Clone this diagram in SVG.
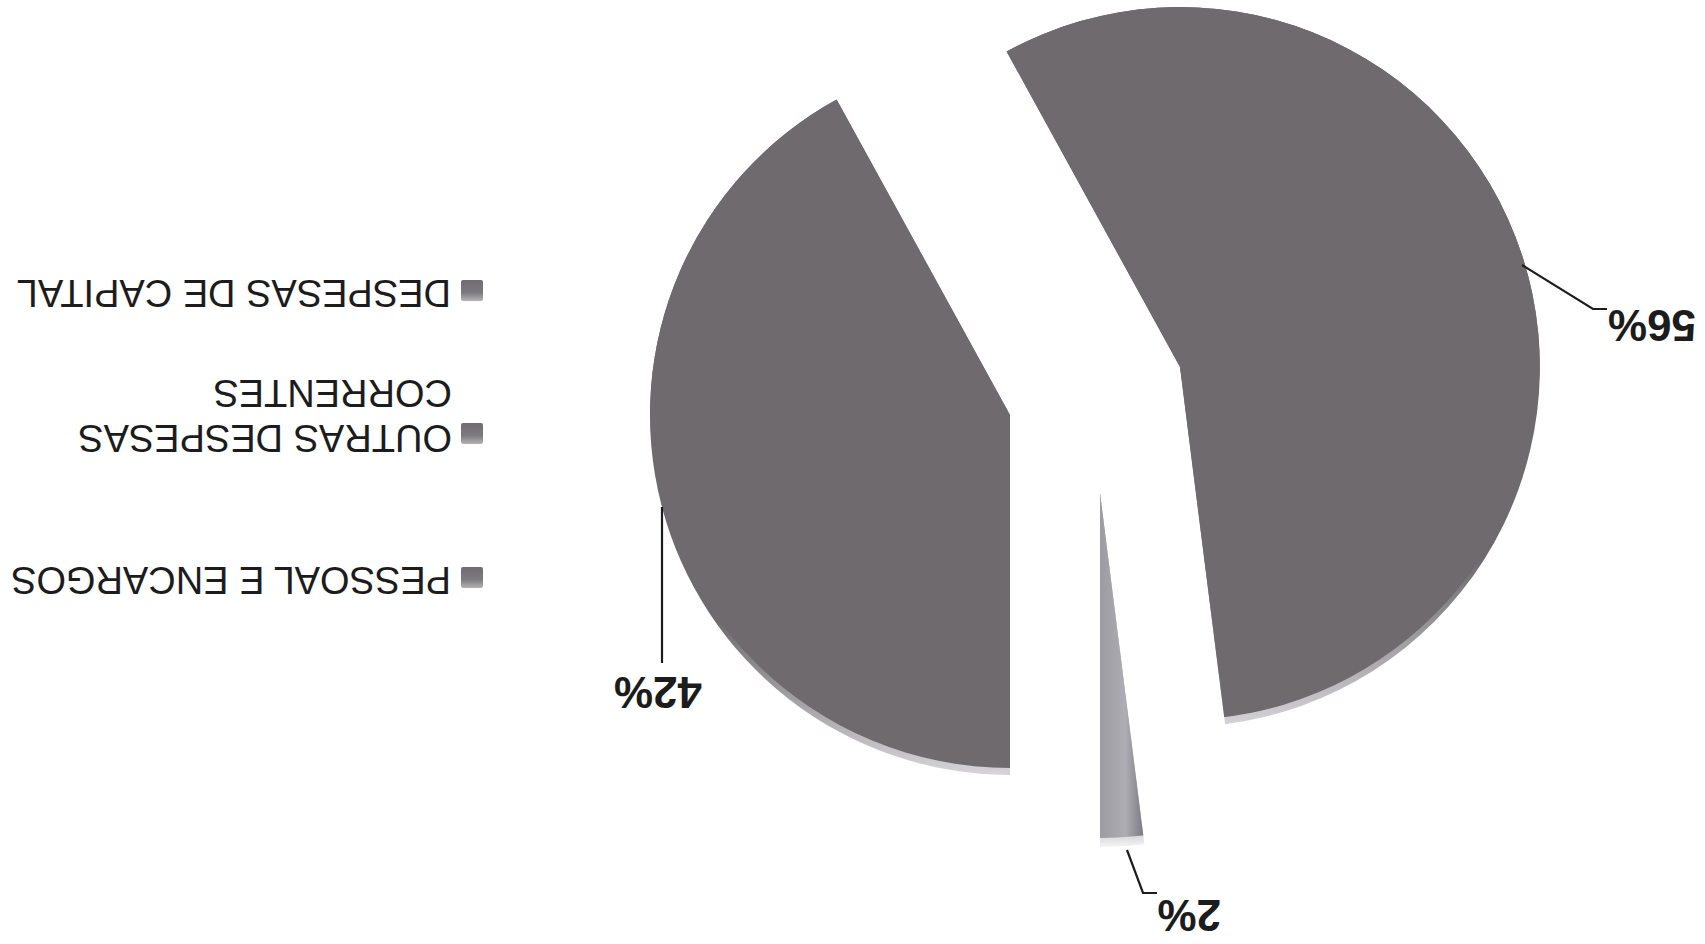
<svg xmlns="http://www.w3.org/2000/svg" width="1705" height="944" viewBox="0 0 1705 944">
  <style>
    .legend { font-family: "Liberation Sans", Arial, sans-serif; font-size: 38px; fill: #1c1c1c; }
    .pct { font-family: "Liberation Sans", Arial, sans-serif; font-size: 44px; font-weight: bold; fill: #1c1c1c; }
    .lead { fill: none; stroke: #1c1c1c; stroke-width: 2.2; }
    .base { fill: #6e6a6d; }
  </style>
  <defs>
    <linearGradient id="rimL" gradientUnits="userSpaceOnUse" x1="0" y1="620" x2="0" y2="775">
      <stop offset="0" stop-color="#6e6a6d"/>
      <stop offset="1" stop-color="#d6d4d8"/>
    </linearGradient>
    <linearGradient id="rimR" gradientUnits="userSpaceOnUse" x1="0" y1="560" x2="0" y2="727">
      <stop offset="0" stop-color="#6e6a6d"/>
      <stop offset="1" stop-color="#d6d4d8"/>
    </linearGradient>
    <linearGradient id="smallFill" gradientUnits="userSpaceOnUse" x1="1100" y1="0" x2="1146" y2="0">
      <stop offset="0" stop-color="#9c9ba2"/>
      <stop offset="0.55" stop-color="#aeadb4"/>
      <stop offset="1" stop-color="#75747a"/>
    </linearGradient>
    <linearGradient id="smallRim" gradientUnits="userSpaceOnUse" x1="0" y1="820" x2="0" y2="847">
      <stop offset="0" stop-color="#b4b3b9"/>
      <stop offset="1" stop-color="#f4f4f6"/>
    </linearGradient>
    <linearGradient id="sq" x1="0" y1="0" x2="0" y2="1">
      <stop offset="0" stop-color="#6f6d71"/>
      <stop offset="0.6" stop-color="#7c7a7e"/>
      <stop offset="1" stop-color="#b5b3b7"/>
    </linearGradient>
    <clipPath id="clipL"><path d="M1010,415 L1010,775 A360,360 0 0,1 836.6,99.5 Z"/></clipPath>
    <clipPath id="clipR"><path d="M1180,367 L1006.6,51.5 A360,360 0 1,1 1225.1,724.2 Z"/></clipPath>
    <clipPath id="clipS"><path d="M1100,493 L1144.4,844.2 A354,354 0 0,1 1100,847 Z"/></clipPath>
  </defs>

  <g id="slice-42">
    <path d="M1010,415 L1010,775 A360,360 0 0,1 836.6,99.5 Z" fill="url(#rimL)"/>
    <circle class="base" cx="1010" cy="408" r="360" clip-path="url(#clipL)"/>
  </g>

  <g id="slice-56">
    <path d="M1180,367 L1006.6,51.5 A360,360 0 1,1 1225.1,724.2 Z" fill="url(#rimR)"/>
    <circle class="base" cx="1180" cy="360" r="360" clip-path="url(#clipR)"/>
  </g>

  <g id="slice-2">
    <path d="M1100,493 L1144.4,844.2 A354,354 0 0,1 1100,847 Z" fill="url(#smallRim)"/>
    <circle cx="1100" cy="484" r="354" fill="url(#smallFill)" clip-path="url(#clipS)"/>
  </g>

  <g id="connectors">
    <polyline class="lead" points="662,507 662,663"/>
    <polyline class="lead" points="1522,265 1593,309 1607,309"/>
    <polyline class="lead" points="1127,850 1143,893 1157,893"/>
  </g>

  <g id="labels">
    <text class="pct" transform="rotate(180)" x="-702" y="-677">42%</text>
    <text class="pct" transform="rotate(180)" x="-1696" y="-310">56%</text>
    <text class="pct" transform="rotate(180)" x="-1221" y="-900">2%</text>
  </g>

  <g id="legend">
    <g id="legend-capital">
      <rect x="461" y="280" width="22" height="21" rx="2" fill="url(#sq)"/>
      <text class="legend" transform="rotate(180)" x="-451" y="-280">DESPESAS DE CAPITAL</text>
    </g>
    <g id="legend-outras">
      <rect x="461" y="423" width="22" height="21" rx="2" fill="url(#sq)"/>
      <text class="legend" transform="rotate(180)" x="-452" y="-425">OUTRAS DESPESAS</text>
      <text class="legend" transform="rotate(180)" x="-452" y="-380">CORRENTES</text>
    </g>
    <g id="legend-pessoal">
      <rect x="461" y="567" width="22" height="21" rx="2" fill="url(#sq)"/>
      <text class="legend" transform="rotate(180)" x="-451" y="-567">PESSOAL E ENCARGOS</text>
    </g>
  </g>
</svg>
